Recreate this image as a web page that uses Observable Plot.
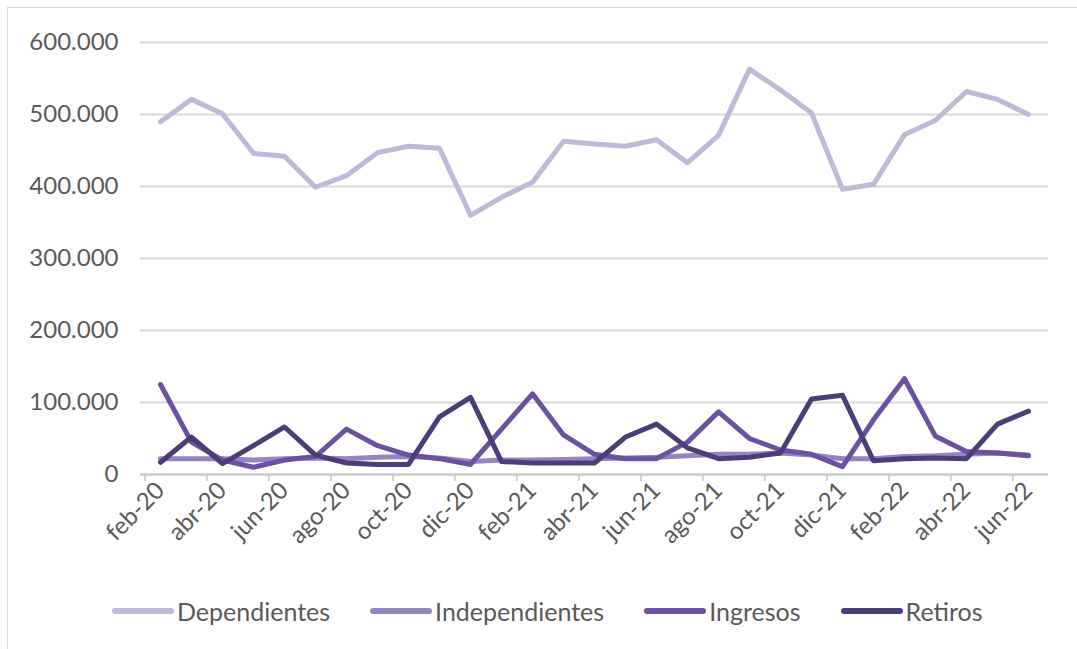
<!DOCTYPE html>
<html>
<head>
<meta charset="utf-8">
<script src="https://cdn.jsdelivr.net/npm/d3@7"></script>
<script src="https://cdn.jsdelivr.net/npm/@observablehq/plot@0.6"></script>
<style>
  body { margin: 0; background: #fff; font-family: Lato, "Open Sans", sans-serif; }
  #frame { position: absolute; left: 7px; top: 7px; width: 1070px; height: 642px;
           border-left: 1px solid #d9d9d9; border-top: 1px solid #d9d9d9; box-sizing: border-box; z-index: 2; pointer-events: none; }
  #chart { position: absolute; left: 0; top: 0; }
  #legend { position: absolute; left: 112px; top: 596px; display: flex; align-items: center;
            font-size: 25px; color: #595959; }
  .item { display: flex; align-items: center; margin-right: 40px; }
  .sw { width: 62px; height: 6px; border-radius: 3px; margin-right: 3px; }
</style>
</head>
<body>
<div id="frame"></div>
<div id="chart"></div>
<div id="legend"></div>
<script>
const months = ["feb-20","mar-20","abr-20","may-20","jun-20","jul-20","ago-20","sep-20","oct-20","nov-20","dic-20",
  "ene-21","feb-21","mar-21","abr-21","may-21","jun-21","jul-21","ago-21","sep-21","oct-21","nov-21","dic-21",
  "ene-22","feb-22","mar-22","abr-22","may-22","jun-22"];
const seriesNames = ["Dependientes","Independientes","Ingresos","Retiros"];
const seriesColors = ["#bdbad7","#9584c2","#6a52a0","#4c3c78"];
const dependientes = [490,521,501,446,442,399,415,447,456,453,360,385,406,463,459,456,465,433,471,563,534,502,396,403,472,492,532,521,500];
const independientes = [22,22,22,20,22,23,22,24,25,23,18,20,20,21,22,23,24,26,28,28,30,27,22,22,25,26,28,30,27];
const ingresos = [125,45,20,10,20,25,63,40,27,22,14,63,112,55,28,22,22,45,87,50,34,28,11,76,133,53,32,30,26];
const retiros = [17,52,15,40,66,27,16,14,14,80,107,18,16,16,16,52,70,37,22,24,30,105,110,19,22,23,22,70,88];
const yTicks = [0,100000,200000,300000,400000,500000,600000];
const labeledMonths = months.filter((d, i) => i % 2 === 0);

const seriesValues = [dependientes, independientes, ingresos, retiros];
const data = seriesNames.flatMap((s, k) => months.map((m, i) => ({serie: s, mes: m, valor: seriesValues[k][i] * 1000})));

const loc = d3.formatLocale({decimal: ",", thousands: ".", grouping: [3], currency: ["", ""]});
const fmt = loc.format(",.0f");

const W = 1077, H = 580, mL = 140, mR = 29, mT = 42, mB = 106;
const step = (W - mL - mR) / months.length;

const chart = Plot.plot({
  width: W, height: H,
  marginLeft: mL, marginRight: mR, marginTop: mT, marginBottom: mB,
  style: {fontFamily: "Lato, 'Open Sans', sans-serif", fontSize: "24px", color: "#595959", background: "transparent"},
  x: {type: "point", domain: months, padding: 0.5},
  y: {domain: [0, 600000]},
  color: {domain: seriesNames, range: seriesColors},
  marks: [
    Plot.gridY(yTicks, {stroke: "#d9d9d9", strokeOpacity: 1, strokeWidth: 2}),
    Plot.ruleY([0], {stroke: "#c8c8c8", strokeWidth: 2}),
    Plot.axisY(yTicks, {tickSize: 0, tickPadding: 22, tickFormat: fmt, label: null, fill: "#595959"}),
    Plot.axisX(labeledMonths, {tickSize: 7, text: null, label: null, dx: -step / 2, stroke: "#c8c8c8", strokeWidth: 1.5}),
    Plot.axisX(labeledMonths, {tickSize: 0, tickPadding: 12, tickRotate: -45, label: null, fill: "#595959"}),
    Plot.line(data, {x: "mes", y: "valor", z: "serie", stroke: "serie", strokeWidth: 5,
                     strokeLinejoin: "round", strokeLinecap: "round"})
  ]
});
document.getElementById("chart").appendChild(chart);

const legend = document.getElementById("legend");
seriesNames.forEach((s, i) => {
  const it = document.createElement("div");
  it.className = "item";
  const sw = document.createElement("span");
  sw.className = "sw";
  sw.style.background = seriesColors[i];
  const t = document.createElement("span");
  t.textContent = s;
  it.appendChild(sw); it.appendChild(t);
  legend.appendChild(it);
});
</script>
</body>
</html>
